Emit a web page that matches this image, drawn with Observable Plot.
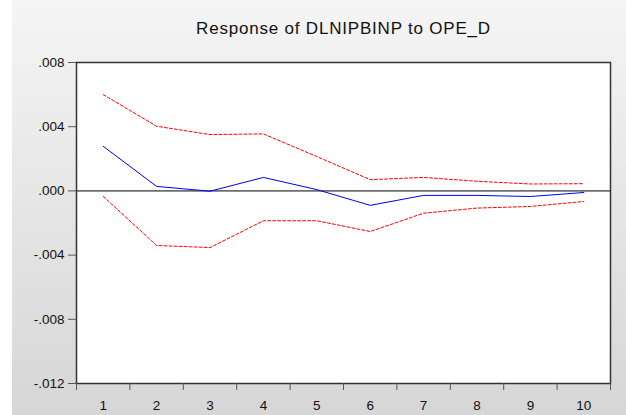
<!DOCTYPE html>
<html>
<head>
<meta charset="utf-8">
<script src="https://cdn.jsdelivr.net/npm/d3@7"></script>
<script src="https://cdn.jsdelivr.net/npm/@observablehq/plot@0.6"></script>
<style>
  body { margin: 0; background: #fff; }
  svg { display: block; }
</style>
</head>
<body>
<div id="chart"></div>
<script>
const title = "Response of DLNIPBINP to OPE_D";
const periods = [1, 2, 3, 4, 5, 6, 7, 8, 9, 10];
const response = [0.00278, 0.00028, -0.00002, 0.00084, 0.00008, -0.0009, -0.00028, -0.00028, -0.00035, -0.0001];
const upperBand = [0.0060, 0.00403, 0.00351, 0.00355, 0.00214, 0.0007, 0.00084, 0.0006, 0.00043, 0.00045];
const lowerBand = [-0.00034, -0.0034, -0.00353, -0.00186, -0.00186, -0.00253, -0.00139, -0.00107, -0.00097, -0.00066];
const yTicks = [0.008, 0.004, 0, -0.004, -0.008, -0.012];
const yTickLabels = [".008", ".004", ".000", "-.004", "-.008", "-.012"];
const xTickLabels = ["1", "2", "3", "4", "5", "6", "7", "8", "9", "10"];

const rows = periods.map((p, i) => ({p, r: response[i], u: upperBand[i], l: lowerBand[i]}));
const boundaries = periods.map(p => p - 0.5).concat([periods[periods.length - 1] + 0.5]);

const chart = Plot.plot({
  width: 626,
  height: 415,
  marginLeft: 76,
  marginRight: 16,
  marginTop: 62,
  marginBottom: 32,
  style: {
    fontFamily: "'Liberation Sans', Arial, sans-serif",
    background: "linear-gradient(to right, #ffffff 12px, transparent 12px), linear-gradient(#f5f5f5, #d6d6d6)",
    color: "#111"
  },
  x: {domain: [0.5, 10.5], label: null},
  y: {domain: [-0.012, 0.008], label: null},
  marks: [
    Plot.frame({fill: "white"}),
    Plot.ruleY([0], {stroke: "#6e6e6e", strokeWidth: 1.6}),
    Plot.line(rows, {x: "p", y: "u", stroke: "#ff0000", strokeWidth: 1, strokeDasharray: "3,2"}),
    Plot.line(rows, {x: "p", y: "l", stroke: "#ff0000", strokeWidth: 1, strokeDasharray: "3,2"}),
    Plot.line(rows, {x: "p", y: "r", stroke: "#0000ff", strokeWidth: 1}),
    Plot.frame({stroke: "#333", strokeWidth: 1.5}),
    Plot.axisY(yTicks, {
      label: null,
      tickFormat: d => yTickLabels[yTicks.indexOf(d)],
      tickSize: 8, tickPadding: 4, fontSize: 13.5, stroke: "#555", fill: "#111"
    }),
    Plot.axisX(boundaries, {label: null, tickFormat: () => "", tickSize: 7, stroke: "#555"}),
    Plot.axisX(periods, {
      label: null,
      tickFormat: d => xTickLabels[periods.indexOf(d)],
      tickSize: 0, tickPadding: 17, fontSize: 13.5, fill: "#111"
    }),
    Plot.text([title], {frameAnchor: "top", dy: -41, fontSize: 17, fill: "#111"})
  ]
});
document.getElementById("chart").appendChild(chart);
d3.select(chart).selectAll("text").filter(function() { return this.textContent === title; })
  .style("letter-spacing", "0.8px");
</script>
</body>
</html>
